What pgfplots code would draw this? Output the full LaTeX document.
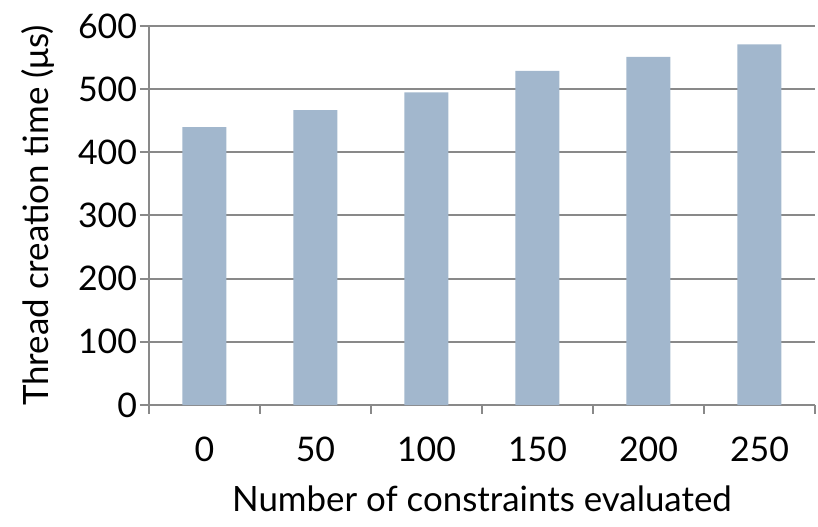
\documentclass[border=0pt]{standalone}
\usepackage{fontspec}
\setmainfont{Lato}
\usepackage{pgfplots}
\pgfplotsset{compat=1.18}
\definecolor{barblue}{RGB}{162,183,205}
\definecolor{gridgray}{RGB}{137,137,137}
\begin{document}
\begin{tikzpicture}[x=1bp,y=1bp]
\path[use as bounding box] (-74.5bp,-61bp) rectangle (334.5bp,202.5bp);
\begin{axis}[
  at={(0,0)}, anchor=south west,
  scale only axis,
  width=333bp, height=189.5bp,
  xmin=-0.5, xmax=5.5,
  ymin=0, ymax=600,
  ytick={0,100,...,600},
  xtick={-0.5,0.5,...,5.5},
  xticklabels={0,50,100,150,200,250},
  x tick label as interval,
  axis x line=bottom, axis y line=left,
  axis line style={draw=gridgray, line width=1bp, -},
  ymajorgrids,
  grid style={draw=gridgray, line width=1bp},
  major tick style={draw=gridgray, line width=1bp},
  tick align=outside,
  major tick length=4.5bp,
  every tick label/.append style={font=\fontsize{17}{20}\selectfont},
  /pgf/number format/assume math mode=true,
  xticklabel style={yshift=-8bp},
  yticklabel style={xshift=2bp},
  label style={font=\fontsize{17.5}{21}\selectfont},
  xlabel={Number of constraints evaluated},
  ylabel={Thread creation time (μs)},
  xlabel style={yshift=-5bp},
  ylabel style={yshift=5bp},
  clip=false,
]
\addplot[ybar, bar width=22bp, fill=barblue, draw=none] coordinates {
  (0,440) (1,467) (2,495) (3,529) (4,551) (5,571)
};
\end{axis}
\end{tikzpicture}
\end{document}
